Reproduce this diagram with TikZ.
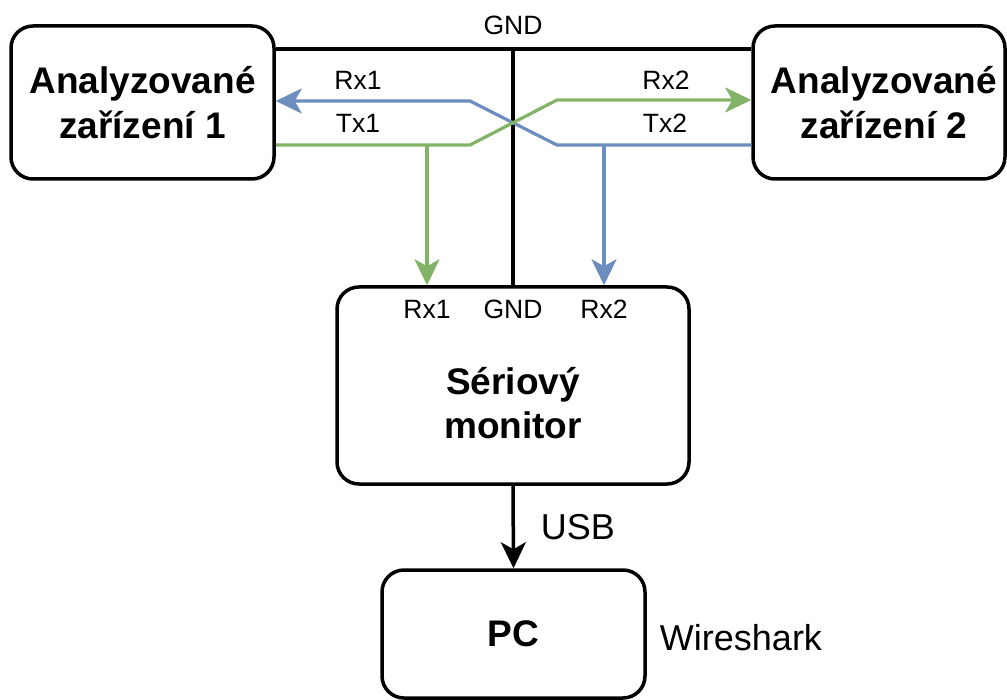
\documentclass[tikz,border=0pt]{standalone}
\usepackage{fontspec}
\setmainfont{Liberation Sans}
\usetikzlibrary{arrows.meta}
\definecolor{dblue}{HTML}{6C8EBF}
\definecolor{dgreen}{HTML}{82B366}
\tikzset{
  box/.style={draw=black, line width=3.5pt, rounded corners=22pt, inner sep=0pt, align=center, font=\fontsize{37}{45}\selectfont\bfseries},
  lbl/.style={inner sep=0pt, anchor=base, font=\fontsize{26.5}{30}\selectfont},
  big/.style={inner sep=0pt, anchor=base, font=\fontsize{36}{40}\selectfont},
  tip/.style={-{Stealth[length=26pt, width=25pt, inset=7pt]}},
  gndw/.style={draw=black, line width=3.5pt},
  bwire/.style={draw=dblue, line width=3.2pt},
  gwire/.style={draw=dgreen, line width=3.2pt},
}
\begin{document}
\begin{tikzpicture}[x=1pt, y=-1pt]
\useasboundingbox (0,0) rectangle (1007,700);
% boxes
\node[box, minimum width=263pt, minimum height=153pt] (d1) at (142.5,102.5) {Analyzované\\zařízení 1};
\node[box, minimum width=252pt, minimum height=153pt] (d2) at (879,102.5) {};
\node[inner sep=0pt, align=center, font=\fontsize{37}{45}\selectfont\bfseries] (d2t) at (884,102.5) {Analyzované\\zařízení 2};
\node[box, minimum width=352pt, minimum height=197pt] (mon) at (513,385.5) {};
\node[inner sep=0pt, align=center, font=\fontsize{37}{44}\selectfont\bfseries] (mont) at (513,403) {Sériový\\monitor};
\node[box, minimum width=263pt, minimum height=128pt] (pc) at (513.5,634) {PC};
% coordinates
\coordinate (g) at (513,49);
\coordinate (a1) at (470,101);
\coordinate (a2) at (470,145);
\coordinate (b1) at (557,100);
\coordinate (b2) at (557,145);
\coordinate (j1) at (427,145);
\coordinate (j2) at (604,145);
% GND
\draw[gndw] (d1.east |- g) -- (d2.west |- g);
\draw[gndw] (g) -- (g |- mon.north);
% blue: Tx2 -> Rx1
\draw[bwire, tip] (d2.west |- b2) -- (b2) -- (a1) -- (d1.east |- a1);
\draw[bwire, tip] (j2) -- (j2 |- mon.north);
% green: Tx1 -> Rx2
\draw[gwire, tip] (d1.east |- a2) -- (a2) -- (b1) -- (d2.west |- b1);
\draw[gwire, tip] (j1) -- (j1 |- mon.north);
% USB
\draw[gndw, tip] (mon.south) -- (pc.north);
% labels
\node[lbl] (lg) at (513,35) {GND};
\node[lbl] (lrx1) at (358,90) {Rx1};
\node[lbl] (ltx1) at (358,133) {Tx1};
\node[lbl] (lrx2) at (666,90) {Rx2};
\node[lbl] (ltx2) at (665,133) {Tx2};
\node[lbl] (prx1) at (427,319) {Rx1};
\node[lbl] (pgnd) at (513,319) {GND};
\node[lbl] (prx2) at (604,319) {Rx2};
\node[big] (usb) at (578,539) {USB};
\node[big] (ws) at (741,650) {Wireshark};
\end{tikzpicture}
\end{document}
